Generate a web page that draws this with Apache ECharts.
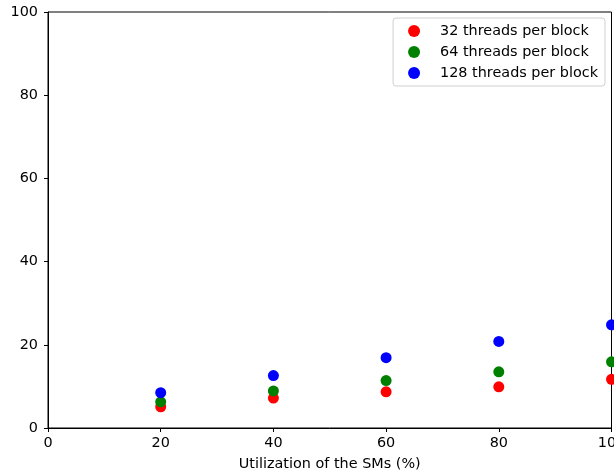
<!DOCTYPE html>
<html>
<head>
<meta charset="utf-8">
<script src="https://cdn.jsdelivr.net/npm/echarts@6/dist/echarts.min.js"></script>
<style>
html,body{margin:0;padding:0;background:#fff;}
#chart{width:614px;height:472px;}
</style>
</head>
<body>
<div id="chart"></div>
<script>
// SM utilization (%) on the x axis
const utilization = [20, 40, 60, 80, 100];
// Measured values per block size
const threads32 = [5.1, 7.2, 8.7, 9.9, 11.7];
const threads64 = [6.3, 8.9, 11.4, 13.5, 15.9];
const threads128 = [8.5, 12.6, 16.9, 20.8, 24.8];
const seriesNames = ['32 threads per block', '64 threads per block', '128 threads per block'];
const seriesColors = ['#ff0000', '#008000', '#0000ff'];

const font = 'DejaVu Sans';
const fs = 14.4;
const pair = (xs, ys) => xs.map((x, i) => [x, ys[i]]);
const values = [threads32, threads64, threads128];

const chart = echarts.init(document.getElementById('chart'), null, {renderer: 'canvas'});
chart.setOption({
  animation: false,
  backgroundColor: '#fff',
  textStyle: {fontFamily: font},
  grid: {
    left: 48, top: 12, right: 2.5, bottom: 44,
    outerBoundsMode: 'none',
    containLabel: false,
    show: true, borderColor: '#000', borderWidth: 1
  },
  legend: {
    right: 9, top: 18,
    orient: 'vertical',
    itemGap: 5,
    itemWidth: 12, itemHeight: 12,
    padding: [5, 7, 5, 15],
    borderColor: '#d0d0d0', borderWidth: 1, borderRadius: 3,
    backgroundColor: 'rgba(255,255,255,0.8)',
    textStyle: {fontFamily: font, fontSize: fs, color: '#000', lineHeight: 16, padding: [0, 0, 0, 15]},
    data: seriesNames.map(n => ({name: n, icon: 'circle'}))
  },
  xAxis: {
    type: 'value', min: 0, max: 100, interval: 20,
    name: 'Utilization of the SMs (%)', nameLocation: 'middle', nameGap: 29,
    nameTextStyle: {fontFamily: font, fontSize: fs, color: '#000'},
    axisLine: {show: true, lineStyle: {color: '#000', width: 1}},
    axisTick: {show: true, length: 4, lineStyle: {color: '#000'}},
    axisLabel: {fontFamily: font, fontSize: fs, color: '#000', margin: 8},
    splitLine: {show: false}
  },
  yAxis: {
    type: 'value', min: 0, max: 100, interval: 20,
    axisLine: {show: true, lineStyle: {color: '#000', width: 1}},
    axisTick: {show: true, length: 4, lineStyle: {color: '#000'}},
    axisLabel: {fontFamily: font, fontSize: fs, color: '#000', margin: 10},
    splitLine: {show: false}
  },
  series: seriesNames.map((name, i) => ({
    name: name,
    type: 'scatter',
    symbol: 'circle',
    symbolSize: 11,
    itemStyle: {color: seriesColors[i], opacity: 1},
    data: pair(utilization, values[i])
  }))
});
</script>
</body>
</html>
